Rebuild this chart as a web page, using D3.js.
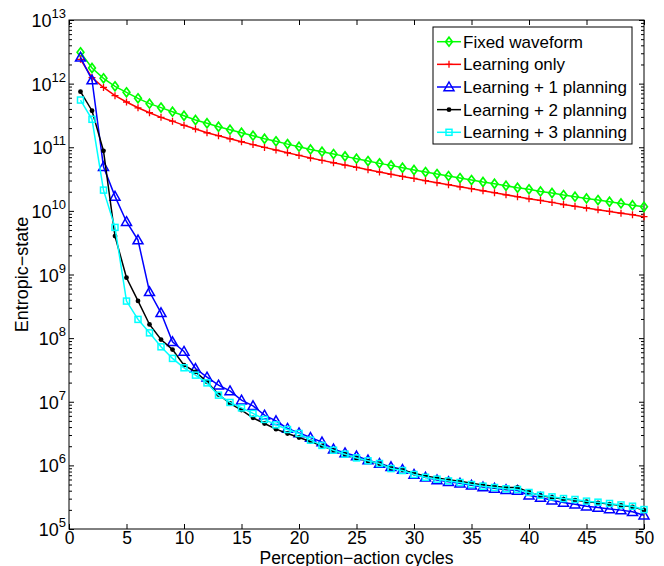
<!DOCTYPE html>
<html>
<head>
<meta charset="utf-8">
<script src="https://cdn.jsdelivr.net/npm/d3@7/dist/d3.min.js"></script>
<style>
  html, body { margin: 0; padding: 0; background: #fff; }
  svg { display: block; font-family: "Liberation Sans", Arial, Helvetica, sans-serif; }
</style>
</head>
<body>
<svg id="chart" width="664" height="566"></svg>
<script>
const cycles = d3.range(1, 51);

const fixedWaveform = [3.1e12,1.76e12,1.21e12,9.06e11,7.3e11,5.87e11,4.84e11,4.2e11,3.62e11,3.13e11,
  2.68e11,2.38e11,2.10e11,1.89e11,1.69e11,1.52e11,1.36e11,1.24e11,1.12e11,1.02e11,
  9.25e10,8.51e10,7.82e10,7.19e10,6.61e10,6.07e10,5.58e10,5.19e10,4.76e10,4.39e10,
  4.07e10,3.79e10,3.52e10,3.28e10,3.05e10,2.84e10,2.67e10,2.48e10,2.31e10,2.18e10,
  2.02e10,1.91e10,1.77e10,1.67e10,1.57e10,1.48e10,1.39e10,1.31e10,1.23e10,1.16e10];

const learningOnly = [2.41e12,1.24e12,8.7e11,6.46e11,5.14e11,4.17e11,3.49e11,2.95e11,2.57e11,2.21e11,
  1.93e11,1.69e11,1.52e11,1.36e11,1.22e11,1.10e11,9.95e10,9.04e10,8.2e10,7.45e10,
  6.76e10,6.22e10,5.71e10,5.25e10,4.83e10,4.44e10,4.07e10,3.75e10,3.48e10,3.24e10,
  2.98e10,2.77e10,2.58e10,2.39e10,2.23e10,2.07e10,1.93e10,1.79e10,1.67e10,1.55e10,
  1.46e10,1.36e10,1.26e10,1.18e10,1.11e10,1.04e10,9.8e9,9.2e9,8.7e9,8.1e9];

const learning1 = [2.59e12,1.14e12,4.94e10,1.69e10,6.75e9,3.48e9,5.35e8,2.5e8,8.75e7,6.17e7,
  3.33e7,2.43e7,1.82e7,1.48e7,1.06e7,8.63e6,6.15e6,5.01e6,3.8e6,3.24e6,
  2.74e6,2.32e6,1.8e6,1.57e6,1.40e6,1.21e6,1.07e6,9.48e5,8.61e5,7.2e5,
  6.5e5,5.9e5,5.53e5,5.22e5,4.85e5,4.57e5,4.35e5,4.14e5,4.03e5,3.4e5,
  3.13e5,2.84e5,2.61e5,2.45e5,2.28e5,2.17e5,2.07e5,1.98e5,1.86e5,1.65e5];

const learning2 = [7.46e11,3.75e11,8.8e10,4.02e9,8.9e8,3.85e8,1.64e8,9.5e7,6.6e7,3.76e7,
  2.95e7,2.06e7,1.3e7,9.4e6,7.4e6,5.58e6,4.55e6,3.71e6,3.17e6,2.74e6,
  2.37e6,2.03e6,1.72e6,1.49e6,1.3e6,1.17e6,1.06e6,9.1e5,8.5e5,7.53e5,
  6.82e5,6.35e5,5.97e5,5.64e5,5.24e5,4.93e5,4.7e5,4.48e5,4.49e5,3.8e5,
  3.35e5,3.13e5,2.95e5,2.85e5,2.68e5,2.58e5,2.46e5,2.34e5,2.23e5,1.98e5];

const learning3 = [5.52e11,2.75e11,2.12e10,5.5e9,3.82e8,1.97e8,1.21e8,7.3e7,4.8e7,3.42e7,
  2.62e7,1.98e7,1.27e7,9.75e6,8.0e6,6.55e6,5.27e6,4.34e6,3.66e6,3.17e6,
  2.49e6,2.06e6,1.73e6,1.5e6,1.31e6,1.18e6,1.07e6,8.9e5,8.3e5,7.2e5,
  6.5e5,6.07e5,5.7e5,5.38e5,5.0e5,4.71e5,4.49e5,4.28e5,4.18e5,3.75e5,
  3.4e5,3.2e5,3.01e5,2.91e5,2.74e5,2.64e5,2.52e5,2.39e5,2.28e5,2.02e5];

const seriesNames = ["Fixed waveform","Learning only","Learning + 1 planning","Learning + 2 planning","Learning + 3 planning"];
const seriesColors = ["#00ff00","#ff0000","#0000ff","#000000","#00ffff"];
const seriesMarkers = ["diamond","plus","triangle","dot","square"];
const seriesValues = [fixedWaveform, learningOnly, learning1, learning2, learning3];

const xTicks = [0,5,10,15,20,25,30,35,40,45,50];
const yTickExponents = [5,6,7,8,9,10,11,12,13];

const xLabel = "Perception\u2212action cycles";
const yLabel = "Entropic\u2212state";

// ---------- layout ----------
const L = 69, R = 644, T = 20, B = 529;
const svg = d3.select("#chart");
const x = d3.scaleLinear().domain([0, 50]).range([L, R]);
const y = d3.scaleLog().domain([1e5, 1e13]).range([B, T]);

const minorVals = [];
for (let e = 5; e < 13; e++) for (let m = 2; m <= 9; m++) minorVals.push(m * Math.pow(10, e));
const majorVals = yTickExponents.map(e => Math.pow(10, e));

// axes: ticks inward
const gx = svg.append("g").attr("transform", `translate(0,${B})`)
  .call(d3.axisBottom(x).tickValues(xTicks).tickSize(-5).tickPadding(3).tickFormat(d3.format("d")));
const gxt = svg.append("g").attr("transform", `translate(0,${T})`)
  .call(d3.axisTop(x).tickValues(xTicks).tickSize(-5).tickFormat(""));
const gy = svg.append("g").attr("transform", `translate(${L},0)`)
  .call(d3.axisLeft(y).tickValues(majorVals).tickSize(-5).tickFormat(""));
const gym = svg.append("g").attr("transform", `translate(${L},0)`)
  .call(d3.axisLeft(y).tickValues(minorVals).tickSize(-3).tickFormat(""));
const gyr = svg.append("g").attr("transform", `translate(${R},0)`)
  .call(d3.axisRight(y).tickValues(majorVals).tickSize(-5).tickFormat(""));
const gyrm = svg.append("g").attr("transform", `translate(${R},0)`)
  .call(d3.axisRight(y).tickValues(minorVals).tickSize(-3).tickFormat(""));

[gx, gxt, gy, gym, gyr, gyrm].forEach(g => {
  g.select(".domain").remove();
  g.selectAll(".tick line").attr("stroke", "#000").attr("stroke-width", 1);
});
gx.selectAll(".tick text").attr("font-size", 17.5).attr("fill", "#000")
  .attr("font-family", "Liberation Sans, Arial, sans-serif");

// y labels 10^n
const yl = svg.append("g");
yTickExponents.forEach(e => {
  const t = yl.append("text").attr("x", L - 3).attr("y", y(Math.pow(10, e)) + 7)
    .attr("text-anchor", "end").attr("fill", "#000");
  t.append("tspan").attr("font-size", 18).text("10");
  t.append("tspan").attr("font-size", 13).attr("dy", -9).text(e);
});

// frame
svg.append("rect").attr("x", L).attr("y", T).attr("width", R - L).attr("height", B - T)
  .attr("fill", "none").attr("stroke", "#000").attr("stroke-width", 1);

// marker drawing
function drawMarker(g, type, color, cx, cy) {
  if (type === "diamond") {
    const s = 4.5;
    g.append("path").attr("d", `M${cx},${cy - s}L${cx + s * 0.75},${cy}L${cx},${cy + s}L${cx - s * 0.75},${cy}Z`)
      .attr("fill", "none").attr("stroke", color).attr("stroke-width", 1.7);
  } else if (type === "plus") {
    const s = 3.5;
    g.append("path").attr("d", `M${cx - s},${cy}H${cx + s}M${cx},${cy - s}V${cy + s}`)
      .attr("stroke", color).attr("stroke-width", 1.3);
  } else if (type === "triangle") {
    const s = 5;
    g.append("path").attr("d", `M${cx},${cy - s}L${cx + s},${cy + s * 0.75}L${cx - s},${cy + s * 0.75}Z`)
      .attr("fill", "none").attr("stroke", color).attr("stroke-width", 1.5);
  } else if (type === "dot") {
    g.append("circle").attr("cx", cx).attr("cy", cy).attr("r", 2.4).attr("fill", color);
  } else if (type === "square") {
    const s = 3;
    g.append("rect").attr("x", cx - s).attr("y", cy - s).attr("width", 2 * s).attr("height", 2 * s)
      .attr("fill", "none").attr("stroke", color).attr("stroke-width", 1.5);
  }
}

const line = d3.line().x((d, i) => x(cycles[i])).y(d => y(d));
const plot = svg.append("g");
seriesValues.forEach((vals, si) => {
  const g = plot.append("g");
  g.append("path").attr("d", line(vals)).attr("fill", "none")
    .attr("stroke", seriesColors[si]).attr("stroke-width", 1.5);
  vals.forEach((v, i) => drawMarker(g, seriesMarkers[si], seriesColors[si], x(cycles[i]), y(v)));
});

// legend
const lg = svg.append("g");
lg.append("rect").attr("x", 433).attr("y", 27).attr("width", 199).attr("height", 117)
  .attr("fill", "#fff").attr("stroke", "#000").attr("stroke-width", 1);
seriesNames.forEach((name, i) => {
  const cy = 41.7 + i * 22.65;
  lg.append("line").attr("x1", 437).attr("x2", 461).attr("y1", cy).attr("y2", cy)
    .attr("stroke", seriesColors[i]).attr("stroke-width", 1.5);
  drawMarker(lg, seriesMarkers[i], seriesColors[i], 449, cy);
  lg.append("text").attr("x", 463).attr("y", cy + 6).attr("font-size", 17).attr("fill", "#000").text(name);
});

// axis titles
svg.append("text").attr("x", (L + R) / 2).attr("y", 563.5).attr("text-anchor", "middle")
  .attr("font-size", 17.5).attr("fill", "#000").text(xLabel);
svg.append("text").attr("transform", `translate(28,${(T + B) / 2}) rotate(-90)`)
  .attr("text-anchor", "middle").attr("font-size", 18).attr("fill", "#000").text(yLabel);
</script>
</body>
</html>
